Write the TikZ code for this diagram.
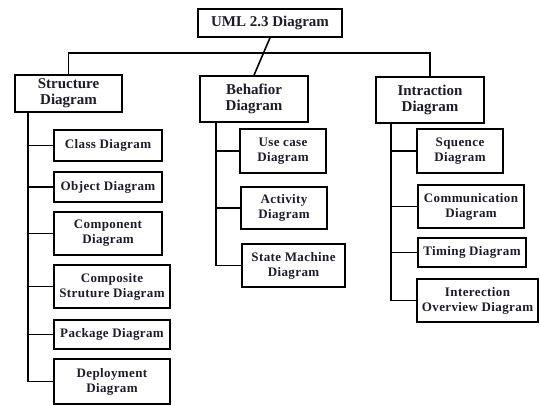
\documentclass[tikz,border=0pt]{standalone}
\usepackage{fontspec}
\setmainfont{Liberation Serif}
\newfontfamily\childfont[LetterSpace=3]{Liberation Serif}
\usetikzlibrary{shadows}
\definecolor{ink}{RGB}{28,28,44}
\tikzset{
  box/.style={draw=black, line width=1.6pt, fill=white, align=center, text=ink,
    inner sep=1pt, font=\childfont\bfseries\fontsize{13}{15}\selectfont,
    drop shadow={shadow xshift=1.2pt, shadow yshift=-1.2pt, fill=black, opacity=0.35}},
  headbox/.style={box, font=\rmfamily\bfseries\fontsize{15}{16}\selectfont},
  conn/.style={line width=1.6pt, draw=black}
}
\newcommand{\bx}[6]{\node[#1, minimum width=#4pt, minimum height=#5pt] (#2) at (#3) {#6};}
\begin{document}
\begin{tikzpicture}[x=1pt, y=-1pt]
\useasboundingbox (0,0) rectangle (540,405);
% level 0 / 1
\bx{headbox}{top}{270,23}{144}{28}{UML 2.3 Diagram}
\bx{headbox}{struct}{68.5,93.5}{107}{37}{Structure\\Diagram}
\bx{headbox}{behav}{254,99}{108}{46}{Behafior\\Diagram}
\bx{headbox}{intr}{430,100}{108}{46}{Intraction\\Diagram}
% structure children
\bx{box}{cls}{108,145.5}{108}{31}{Class Diagram}
\bx{box}{obj}{108,187}{108}{30}{Object Diagram}
\bx{box}{comp}{108,233.5}{108}{43}{Component\\Diagram}
\bx{box}{compo}{112,286.5}{116}{43}{Composite\\Struture Diagram}
\bx{box}{pkg}{112,334.5}{116}{29}{Package Diagram}
\bx{box}{dep}{112,381.5}{116}{45}{Deployment\\Diagram}
% behavior children
\bx{box}{uc}{283,151}{86}{44}{Use case\\Diagram}
\bx{box}{act}{284,208}{86}{42}{Activity\\Diagram}
\bx{box}{sm}{293.5,265.5}{103}{43}{State Machine\\Diagram}
% interaction children
\bx{box}{sq}{460,151}{86}{44}{Squence\\Diagram}
\bx{box}{comm}{471,206.5}{106}{43}{Communication\\Diagram}
\bx{box}{tim}{472,252.5}{108}{29}{Timing Diagram}
\bx{box}{intv}{477.5,300.5}{121}{43}{Interection\\Overview Diagram}
% helper coordinates
\coordinate (hb) at (0,53);
\coordinate (sx) at (28,0);
\coordinate (bx) at (216,0);
\coordinate (ix) at (391,0);
% top connectors
\draw[conn] (top.south) -- (behav.north);
\draw[conn] (struct.north) -- (struct.north |- hb) -- (intr.north |- hb) -- (intr.north);
% structure tree
\draw[conn] (sx |- struct.south) -- (sx |- dep.west) -- (dep.west);
\foreach \n in {cls,obj,comp,compo,pkg}{\draw[conn] (sx |- \n.west) -- (\n.west);}
% behavior tree
\draw[conn] (bx |- behav.south) -- (bx |- sm.west) -- (sm.west);
\foreach \n in {uc,act}{\draw[conn] (bx |- \n.west) -- (\n.west);}
% interaction tree
\draw[conn] (ix |- intr.south) -- (ix |- intv.west) -- (intv.west);
\foreach \n in {sq,comm,tim}{\draw[conn] (ix |- \n.west) -- (\n.west);}
\end{tikzpicture}
\end{document}
